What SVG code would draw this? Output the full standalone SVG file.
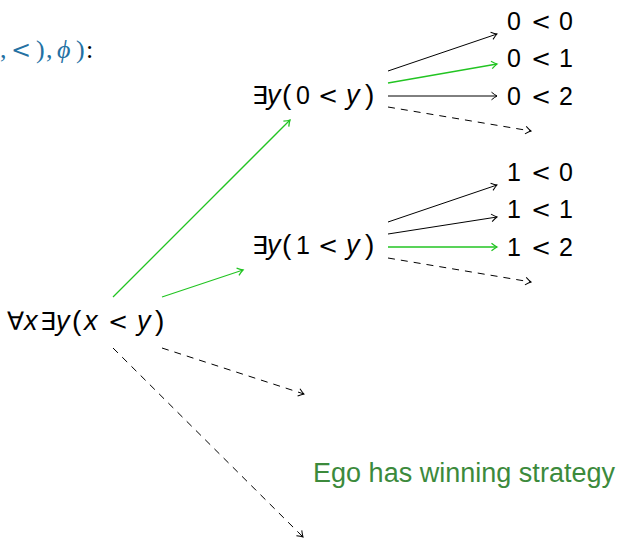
<svg xmlns="http://www.w3.org/2000/svg" width="621" height="539" viewBox="0 0 621 539">
<style>
  .t { font-family: "Liberation Sans", "DejaVu Sans", sans-serif; font-size: 25px; fill: #000; }
  .i { font-style: italic; font-size: 27px; }
  .p { font-size: 28px; }
  .lt { font-family: "DejaVu Sans", sans-serif; font-size: 24px; }
  .m { font-family: "Liberation Serif", "DejaVu Serif", serif; font-size: 26px; fill: #2471a3; }
  .ego { font-family: "Liberation Sans", "DejaVu Sans", sans-serif; font-size: 27px; fill: #3c8a3c; }
  .k { fill: none; stroke: #000; stroke-width: 1; }
  .g { fill: none; stroke: #22c422; stroke-width: 1.3; }
  .d { fill: none; stroke: #000; stroke-width: 1; stroke-dasharray: 7 6; }
</style>
<defs>
  <marker id="ak" markerUnits="userSpaceOnUse" markerWidth="12" markerHeight="12" refX="0" refY="0" viewBox="-7 -6 8 12" orient="auto" overflow="visible">
    <path d="M-5.5,-3.8 Q-2,-1 0,0 Q-2,1 -5.5,3.8" fill="none" stroke="#000" stroke-width="1"/>
  </marker>
  <marker id="ag" markerUnits="userSpaceOnUse" markerWidth="12" markerHeight="12" refX="0" refY="0" viewBox="-7 -6 8 12" orient="auto" overflow="visible">
    <path d="M-5.5,-3.8 Q-2,-1 0,0 Q-2,1 -5.5,3.8" fill="none" stroke="#22c422" stroke-width="1.3"/>
  </marker>
</defs>

<g id="header">
  <text class="m" y="58"><tspan x="0">,</tspan><tspan x="11" font-family="DejaVu Serif, serif" font-size="24">&lt;</tspan><tspan x="36">)</tspan><tspan x="46">,</tspan><tspan x="57" font-style="italic">ϕ</tspan><tspan x="76">)</tspan><tspan x="86" fill="#000">:</tspan></text>
</g>

<g id="connectors">
  <line class="g" x1="113" y1="297" x2="290" y2="120" marker-end="url(#ag)"/>
  <line class="g" x1="162" y1="297" x2="243" y2="270" marker-end="url(#ag)"/>
  <line class="d" x1="162" y1="348" x2="304" y2="394" marker-end="url(#ak)"/>
  <line class="d" x1="113" y1="348" x2="303" y2="537" marker-end="url(#ak)"/>

  <line class="k" x1="388" y1="71" x2="497" y2="34" marker-end="url(#ak)"/>
  <line class="g" x1="388" y1="83" x2="497" y2="64" marker-end="url(#ag)"/>
  <line class="k" x1="388" y1="96" x2="497" y2="96" marker-end="url(#ak)"/>
  <line class="d" x1="388" y1="107" x2="531" y2="131" marker-end="url(#ak)"/>

  <line class="k" x1="388" y1="222" x2="497" y2="185" marker-end="url(#ak)"/>
  <line class="k" x1="388" y1="234" x2="497" y2="217" marker-end="url(#ak)"/>
  <line class="g" x1="388" y1="247" x2="497" y2="247" marker-end="url(#ag)"/>
  <line class="d" x1="388" y1="258" x2="531" y2="282" marker-end="url(#ak)"/>
</g>

<g id="root">
  <text class="t" y="330"><tspan x="7">∀</tspan><tspan x="24" class="i">x</tspan><tspan x="40">∃</tspan><tspan x="56" class="i">y</tspan><tspan x="72" class="p">(</tspan><tspan x="84" class="i">x</tspan><tspan x="108" class="lt">&lt;</tspan><tspan x="137" class="i">y</tspan><tspan x="155" class="p">)</tspan></text>
</g>
<g id="e0">
  <text class="t" y="104"><tspan x="252">∃</tspan><tspan x="267" class="i">y</tspan><tspan x="282" class="p">(</tspan><tspan x="296">0</tspan><tspan x="318" class="lt">&lt;</tspan><tspan x="346" class="i">y</tspan><tspan x="365" class="p">)</tspan></text>
</g>
<g id="e1">
  <text class="t" y="254"><tspan x="252">∃</tspan><tspan x="267" class="i">y</tspan><tspan x="282" class="p">(</tspan><tspan x="296">1</tspan><tspan x="318" class="lt">&lt;</tspan><tspan x="346" class="i">y</tspan><tspan x="365" class="p">)</tspan></text>
</g>
<g id="l00"><text class="t" y="30"><tspan x="507">0</tspan><tspan x="531" class="lt">&lt;</tspan><tspan x="559">0</tspan></text></g>
<g id="l01"><text class="t" y="67"><tspan x="507">0</tspan><tspan x="531" class="lt">&lt;</tspan><tspan x="559">1</tspan></text></g>
<g id="l02"><text class="t" y="105"><tspan x="507">0</tspan><tspan x="531" class="lt">&lt;</tspan><tspan x="559">2</tspan></text></g>
<g id="l10"><text class="t" y="181"><tspan x="507">1</tspan><tspan x="531" class="lt">&lt;</tspan><tspan x="559">0</tspan></text></g>
<g id="l11"><text class="t" y="218"><tspan x="507">1</tspan><tspan x="531" class="lt">&lt;</tspan><tspan x="559">1</tspan></text></g>
<g id="l12"><text class="t" y="256"><tspan x="507">1</tspan><tspan x="531" class="lt">&lt;</tspan><tspan x="559">2</tspan></text></g>

<g id="ego">
  <text class="ego" x="313" y="482" textLength="302" lengthAdjust="spacing">Ego has winning strategy</text>
</g>
</svg>
